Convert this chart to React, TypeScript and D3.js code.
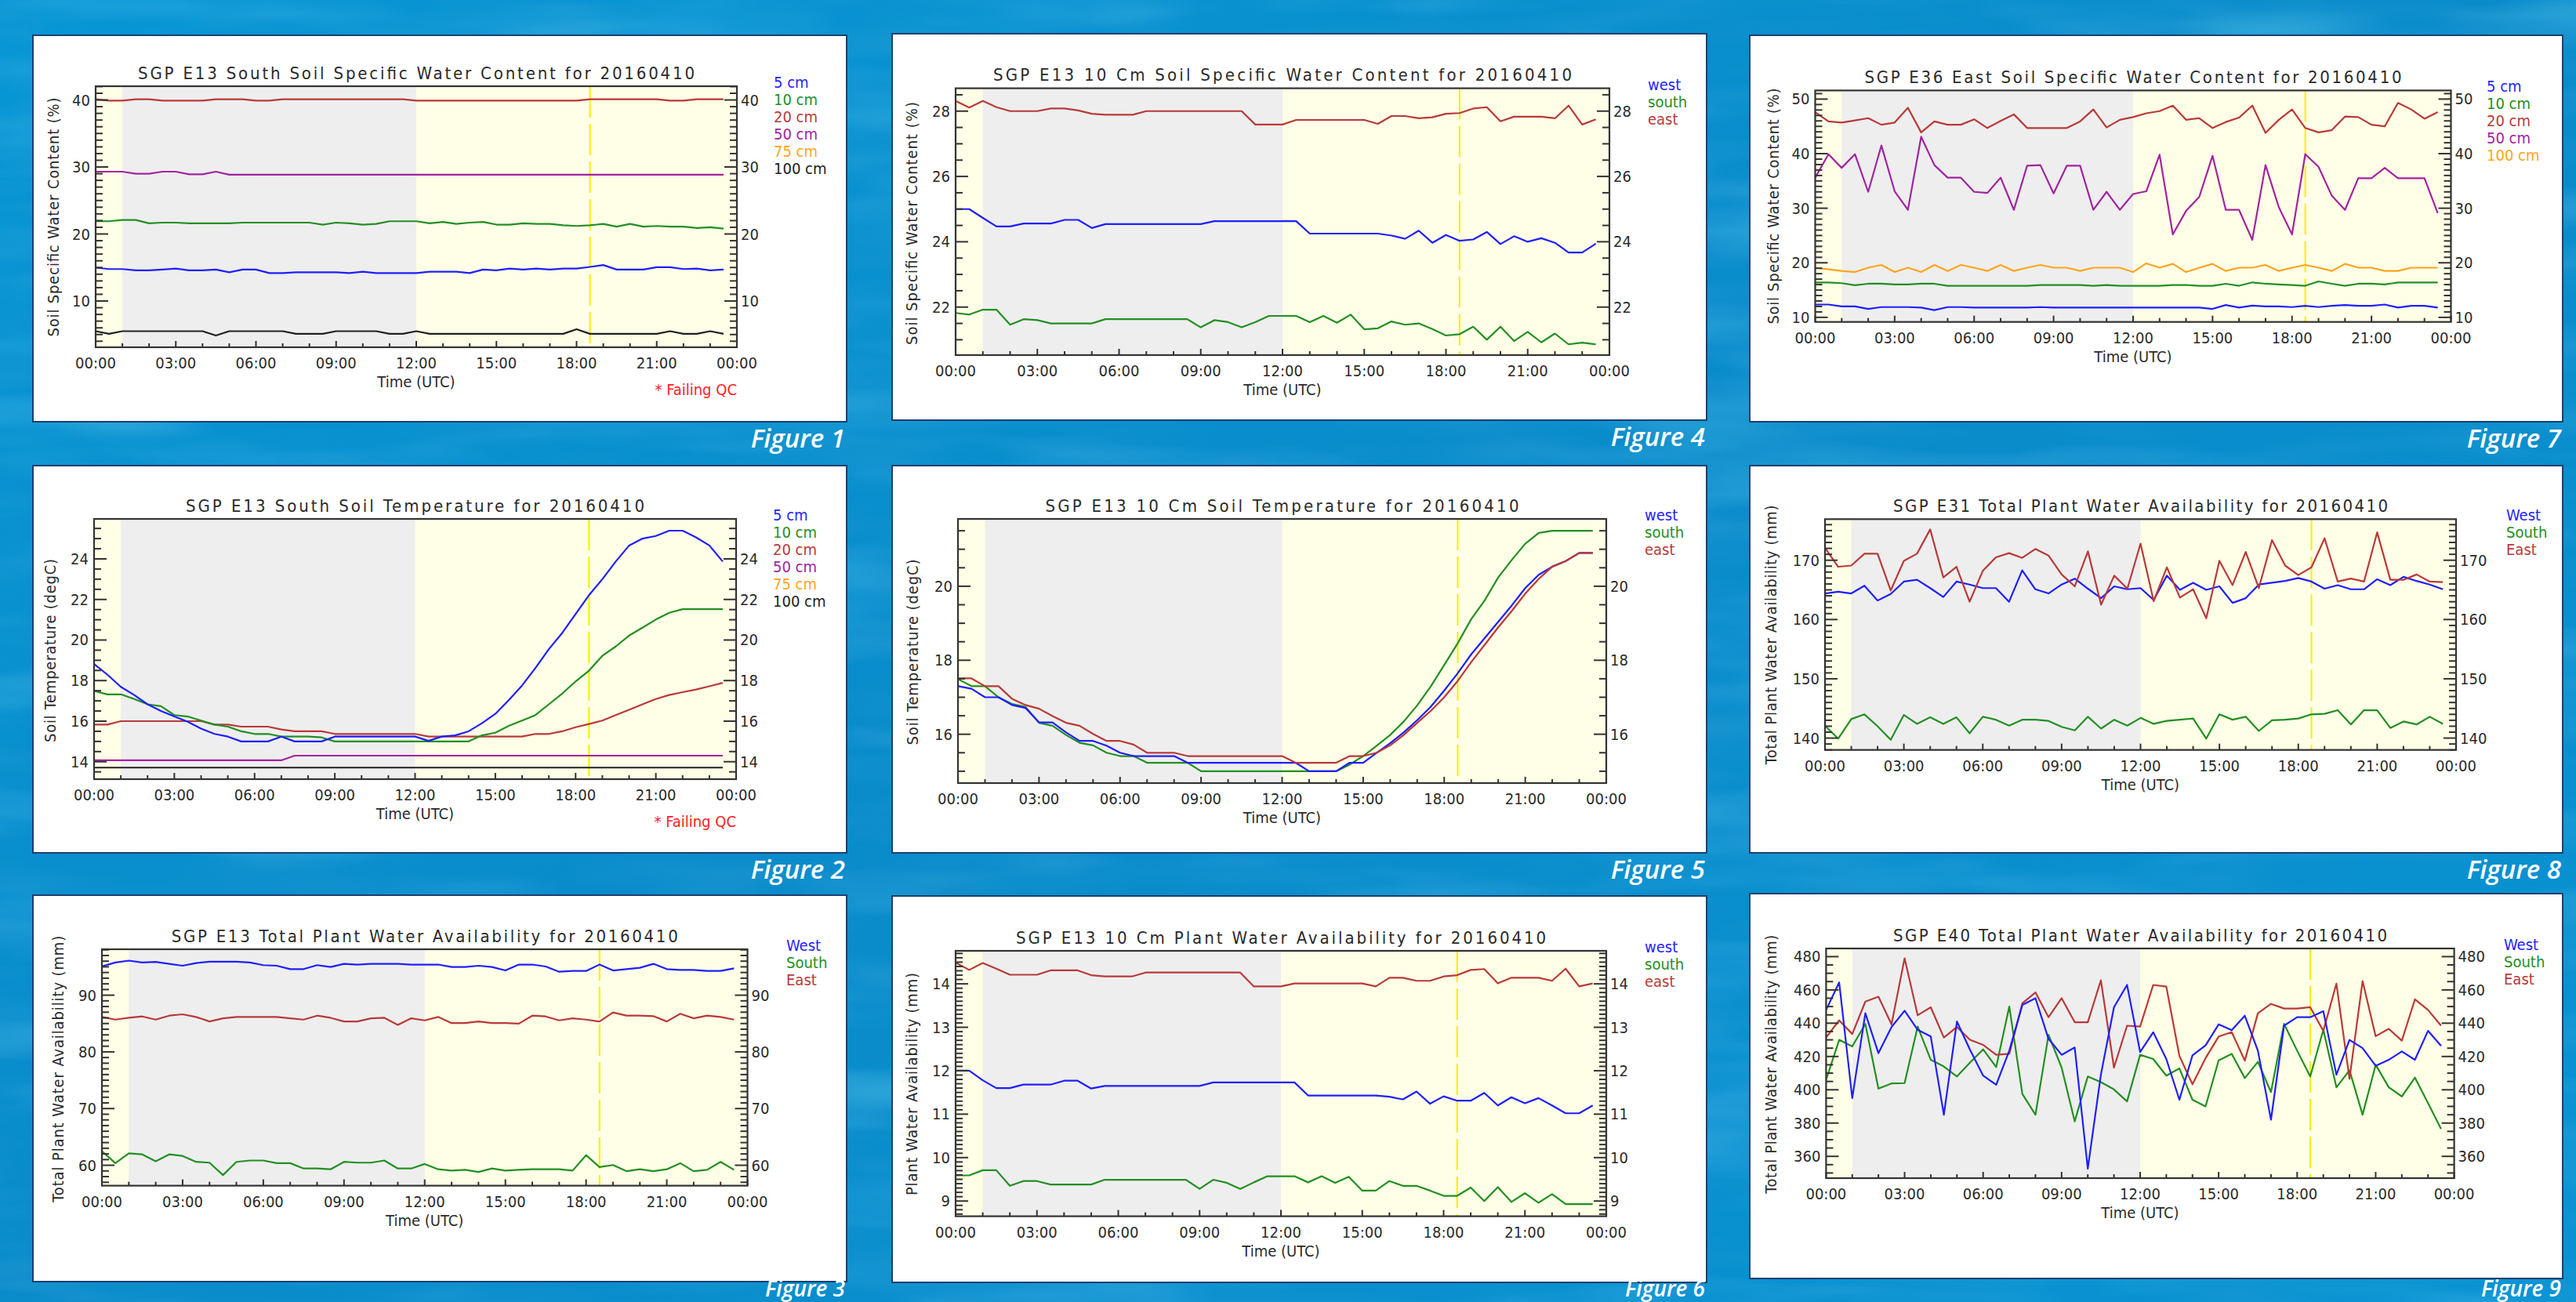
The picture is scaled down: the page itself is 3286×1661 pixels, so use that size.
import React from 'react';
import * as d3 from 'd3';

// ---------- shared axis data ----------
const HOURS = [0, 0.5, 1, 1.5, 2, 2.5, 3, 3.5, 4, 4.5, 5, 5.5, 6, 6.5, 7, 7.5, 8, 8.5, 9, 9.5, 10, 10.5, 11, 11.5,
  12, 12.5, 13, 13.5, 14, 14.5, 15, 15.5, 16, 16.5, 17, 17.5, 18, 18.5, 19, 19.5, 20, 20.5, 21, 21.5, 22, 22.5, 23, 23.5];
const X_TICK_LABELS = ['00:00', '03:00', '06:00', '09:00', '12:00', '15:00', '18:00', '21:00', '00:00'];
const NIGHT = [1, 12];
const MARKER_HOUR = 18.5;

// ---------- Figure 1 : SGP E13 South Soil Specific Water Content ----------
const F1_5CM = [14.97, 14.77, 14.77, 14.57, 14.57, 14.69, 14.85, 14.57, 14.57, 14.69, 14.29, 14.69, 14.69, 14.17, 14.17, 14.29,
  14.29, 14.29, 14.29, 14.17, 14.37, 14.17, 14.17, 14.17, 14.17, 14.37, 14.37, 14.37, 14.17, 14.69, 14.57, 14.85,
  14.69, 14.85, 14.69, 14.85, 14.85, 15.09, 15.37, 14.69, 14.69, 14.69, 15.05, 15.05, 14.77, 14.85, 14.57, 14.69];
const F1_10CM = [21.9, 21.9, 22.1, 22.1, 21.6, 21.7, 21.7, 21.6, 21.6, 21.6, 21.6, 21.7, 21.7, 21.7, 21.7, 21.7,
  21.7, 21.4, 21.7, 21.6, 21.4, 21.5, 21.9, 21.9, 21.9, 21.6, 21.8, 21.5, 21.7, 21.8, 21.4, 21.4,
  21.6, 21.5, 21.5, 21.3, 21.2, 21.3, 21.5, 21.1, 21.5, 21.1, 21.2, 21.1, 21.1, 20.9, 21.0, 20.8];
const F1_20CM = [40.1, 39.9, 39.9, 40.1, 40.1, 39.9, 39.9, 39.9, 39.9, 40.1, 40.1, 40.1, 39.9, 39.9, 40.1, 40.1,
  40.1, 40.1, 40.1, 40.1, 40.1, 40.1, 40.1, 40.1, 39.9, 39.9, 39.9, 39.9, 39.9, 39.9, 39.9, 39.9,
  39.9, 39.9, 39.9, 39.9, 39.9, 40.1, 40.1, 40.1, 40.1, 40.1, 40.1, 39.9, 39.9, 40.1, 40.1, 40.1];
const F1_50CM = [29.3, 29.3, 29.3, 29.0, 29.0, 29.3, 29.3, 28.9, 28.9, 29.3, 28.85, 28.85, 28.85, 28.85, 28.85, 28.85,
  28.85, 28.85, 28.85, 28.85, 28.85, 28.85, 28.85, 28.85, 28.85, 28.85, 28.85, 28.85, 28.85, 28.85, 28.85, 28.85,
  28.85, 28.85, 28.85, 28.85, 28.85, 28.85, 28.85, 28.85, 28.85, 28.85, 28.85, 28.85, 28.85, 28.85, 28.85, 28.85];
const F1_100CM = [5.5, 5.1, 5.5, 5.5, 5.5, 5.5, 5.5, 5.5, 5.5, 4.85, 5.5, 5.5, 5.5, 5.5, 5.5, 5.1,
  5.1, 5.1, 5.5, 5.5, 5.5, 5.5, 5.1, 5.1, 5.5, 5.1, 5.1, 5.1, 5.1, 5.1, 5.1, 5.1,
  5.1, 5.1, 5.1, 5.1, 5.8, 5.1, 5.1, 5.1, 5.1, 5.1, 5.1, 5.5, 5.1, 5.1, 5.5, 5.1];

// ---------- Figure 2 : SGP E13 South Soil Temperature ----------
const F2_5CM = [18.82, 18.29, 17.69, 17.29, 16.83, 16.5, 16.23, 15.97, 15.63, 15.37, 15.24, 15.0, 15.0, 15.0, 15.24, 15.0,
  15.0, 15.0, 15.24, 15.24, 15.24, 15.24, 15.24, 15.24, 15.24, 15.03, 15.24, 15.3, 15.5, 15.9, 16.36, 17.03,
  17.76, 18.62, 19.55, 20.35, 21.28, 22.21, 23.0, 23.87, 24.66, 25.0, 25.13, 25.39, 25.39, 25.06, 24.66, 23.87];
const F2_10CM = [17.49, 17.32, 17.32, 17.09, 16.83, 16.74, 16.3, 16.23, 16.03, 15.83, 15.73, 15.5, 15.37, 15.37, 15.24, 15.24,
  15.24, 15.2, 15.0, 15.0, 15.0, 15.0, 15.0, 15.0, 15.0, 15.0, 15.0, 15.0, 15.0, 15.3, 15.43, 15.77,
  16.03, 16.3, 16.83, 17.36, 17.96, 18.49, 19.22, 19.68, 20.22, 20.61, 21.01, 21.34, 21.52, 21.52, 21.52, 21.52];
const F2_20CM = [15.83, 15.83, 16.0, 16.0, 16.0, 16.0, 16.0, 16.0, 16.0, 15.83, 15.83, 15.73, 15.73, 15.73, 15.59, 15.5,
  15.5, 15.5, 15.37, 15.37, 15.37, 15.37, 15.37, 15.37, 15.37, 15.24, 15.24, 15.24, 15.24, 15.24, 15.24, 15.24,
  15.24, 15.37, 15.37, 15.5, 15.7, 15.86, 16.03, 16.3, 16.56, 16.83, 17.09, 17.29, 17.43, 17.56, 17.72, 17.89];
const F2_50CM = [14.07, 14.07, 14.07, 14.07, 14.07, 14.07, 14.07, 14.07, 14.07, 14.07, 14.07, 14.07, 14.07, 14.07, 14.07, 14.3,
  14.3, 14.3, 14.3, 14.3, 14.3, 14.3, 14.3, 14.3, 14.3, 14.3, 14.3, 14.3, 14.3, 14.3, 14.3, 14.3,
  14.3, 14.3, 14.3, 14.3, 14.3, 14.3, 14.3, 14.3, 14.3, 14.3, 14.3, 14.3, 14.3, 14.3, 14.3, 14.3];
const F2_100CM = [13.71, 13.71, 13.71, 13.71, 13.71, 13.71, 13.71, 13.71, 13.71, 13.71, 13.71, 13.71, 13.71, 13.71, 13.71, 13.71,
  13.71, 13.71, 13.71, 13.71, 13.71, 13.71, 13.71, 13.71, 13.71, 13.71, 13.71, 13.71, 13.71, 13.71, 13.71, 13.71,
  13.71, 13.71, 13.71, 13.71, 13.71, 13.71, 13.71, 13.71, 13.71, 13.71, 13.71, 13.71, 13.71, 13.71, 13.71, 13.71];

// ---------- Figure 3 : SGP E13 Total Plant Water Availability ----------
const F3_WEST = [95.06, 95.77, 96.1, 95.77, 95.86, 95.53, 95.2, 95.67, 95.9, 95.9, 95.9, 95.77, 95.3, 95.2, 94.6, 94.6,
  95.3, 94.97, 95.53, 95.4, 95.53, 95.53, 95.53, 95.4, 95.4, 95.4, 94.97, 94.97, 95.2, 94.97, 94.36, 95.4,
  95.4, 95.06, 94.13, 94.27, 94.27, 95.4, 94.36, 94.6, 94.83, 95.53, 94.6, 94.45, 94.45, 94.27, 94.27, 94.73];
const F3_SOUTH = [62.48, 60.37, 62.1, 61.92, 60.7, 61.92, 61.64, 60.6, 60.46, 58.26, 60.6, 60.84, 60.84, 60.37, 60.37, 59.43,
  59.43, 59.29, 60.6, 60.46, 60.46, 60.84, 59.43, 59.43, 60.23, 59.29, 59.06, 59.2, 58.82, 59.43, 59.06, 59.2,
  59.29, 59.29, 59.29, 59.06, 61.78, 59.67, 60.04, 58.96, 59.29, 58.96, 59.29, 60.37, 58.96, 59.2, 60.6, 59.2];
const F3_EAST = [86.16, 85.69, 86.01, 86.25, 85.69, 86.39, 86.62, 86.16, 85.36, 85.92, 86.16, 86.16, 86.16, 86.16, 85.92, 85.69,
  86.39, 86.01, 85.36, 85.36, 85.92, 86.01, 84.75, 85.92, 85.55, 86.16, 85.08, 85.08, 85.36, 85.08, 85.08, 84.98,
  86.39, 86.25, 85.55, 85.92, 85.69, 85.36, 86.95, 86.39, 86.39, 86.3, 85.36, 86.72, 85.92, 86.39, 86.16, 85.69];

// ---------- Figure 4 : SGP E13 10 Cm Soil Specific Water Content ----------
const F4_WEST = [25.0, 25.0, 24.73, 24.47, 24.47, 24.56, 24.56, 24.56, 24.67, 24.67, 24.42, 24.54, 24.54, 24.54, 24.54, 24.54,
  24.54, 24.54, 24.54, 24.63, 24.63, 24.63, 24.63, 24.63, 24.63, 24.63, 24.25, 24.25, 24.25, 24.25, 24.25, 24.25,
  24.19, 24.09, 24.34, 23.97, 24.21, 24.03, 24.07, 24.3, 23.93, 24.17, 24.0, 24.11, 23.97, 23.67, 23.67, 23.94];
const F4_SOUTH = [21.82, 21.77, 21.92, 21.92, 21.46, 21.63, 21.6, 21.5, 21.5, 21.5, 21.5, 21.63, 21.63, 21.63, 21.63, 21.63,
  21.63, 21.63, 21.38, 21.6, 21.54, 21.38, 21.54, 21.73, 21.73, 21.73, 21.54, 21.73, 21.52, 21.77, 21.32, 21.35,
  21.56, 21.46, 21.5, 21.33, 21.13, 21.17, 21.4, 21.0, 21.4, 20.96, 21.24, 20.92, 21.19, 20.86, 20.91, 20.86];
const F4_EAST = [28.31, 28.11, 28.31, 28.12, 28.0, 28.0, 28.0, 28.08, 28.08, 28.02, 27.92, 27.89, 27.89, 27.89, 28.0, 28.0,
  28.0, 28.0, 28.0, 28.0, 28.0, 28.0, 27.59, 27.59, 27.59, 27.73, 27.73, 27.73, 27.73, 27.73, 27.73, 27.61,
  27.85, 27.85, 27.78, 27.81, 27.92, 27.94, 28.08, 28.12, 27.69, 27.83, 27.83, 27.83, 27.78, 28.17, 27.59, 27.75];

// ---------- Figure 5 : SGP E13 10 Cm Soil Temperature ----------
const F5_WEST = [17.3, 17.23, 17.0, 17.0, 16.79, 16.71, 16.32, 16.32, 16.05, 15.82, 15.82, 15.69, 15.5, 15.41, 15.41, 15.41,
  15.41, 15.23, 15.23, 15.23, 15.23, 15.23, 15.23, 15.23, 15.23, 15.23, 15.0, 15.0, 15.0, 15.23, 15.23, 15.5,
  15.76, 16.05, 16.38, 16.74, 17.18, 17.65, 18.16, 18.6, 19.04, 19.48, 19.95, 20.31, 20.53, 20.68, 20.9, 20.9];
const F5_SOUTH = [17.49, 17.3, 17.3, 17.0, 16.82, 16.74, 16.31, 16.23, 15.98, 15.77, 15.7, 15.5, 15.41, 15.41, 15.23, 15.23,
  15.23, 15.23, 15.0, 15.0, 15.0, 15.0, 15.0, 15.0, 15.0, 15.0, 15.0, 15.0, 15.0, 15.18, 15.41, 15.69,
  15.98, 16.34, 16.78, 17.29, 17.87, 18.46, 19.11, 19.62, 20.24, 20.71, 21.15, 21.44, 21.5, 21.5, 21.5, 21.5];
const F5_EAST = [17.51, 17.51, 17.3, 17.3, 16.96, 16.79, 16.69, 16.49, 16.31, 16.23, 16.01, 15.82, 15.82, 15.72, 15.5, 15.5,
  15.5, 15.41, 15.41, 15.41, 15.41, 15.41, 15.41, 15.41, 15.41, 15.23, 15.23, 15.23, 15.23, 15.41, 15.41, 15.5,
  15.7, 15.98, 16.31, 16.63, 17.0, 17.44, 17.95, 18.42, 18.89, 19.33, 19.8, 20.2, 20.53, 20.68, 20.9, 20.9];

// ---------- Figure 6 : SGP E13 10 Cm Plant Water Availability ----------
const F6_WEST = [12.0, 12.0, 11.78, 11.6, 11.6, 11.68, 11.68, 11.68, 11.77, 11.77, 11.59, 11.65, 11.65, 11.65, 11.65, 11.65,
  11.65, 11.65, 11.65, 11.73, 11.73, 11.73, 11.73, 11.73, 11.73, 11.73, 11.43, 11.43, 11.43, 11.43, 11.43, 11.43,
  11.4, 11.34, 11.52, 11.24, 11.41, 11.31, 11.31, 11.49, 11.2, 11.39, 11.25, 11.37, 11.2, 11.02, 11.02, 11.2];
const F6_SOUTH = [9.59, 9.59, 9.71, 9.71, 9.35, 9.46, 9.46, 9.38, 9.38, 9.38, 9.38, 9.49, 9.49, 9.49, 9.49, 9.49,
  9.49, 9.49, 9.28, 9.49, 9.42, 9.28, 9.43, 9.57, 9.57, 9.57, 9.43, 9.57, 9.42, 9.56, 9.24, 9.24,
  9.46, 9.35, 9.35, 9.24, 9.12, 9.12, 9.31, 9.0, 9.32, 8.98, 9.18, 8.96, 9.16, 8.93, 8.93, 8.93];
const F6_EAST = [14.49, 14.32, 14.48, 14.35, 14.21, 14.21, 14.21, 14.31, 14.31, 14.31, 14.2, 14.17, 14.17, 14.17, 14.26, 14.26,
  14.26, 14.26, 14.26, 14.26, 14.26, 14.26, 13.94, 13.94, 13.94, 14.01, 14.01, 14.01, 14.01, 14.01, 14.01, 13.94,
  14.14, 14.14, 14.07, 14.07, 14.17, 14.2, 14.32, 14.34, 14.01, 14.14, 14.14, 14.14, 14.07, 14.35, 13.94, 14.01];

// ---------- Figure 7 : SGP E36 East Soil Specific Water Content ----------
const F7_5CM = [12.35, 12.35, 12.0, 12.0, 11.55, 11.88, 11.88, 11.88, 11.79, 11.32, 11.88, 11.88, 11.79, 11.79, 11.79, 11.79,
  11.79, 11.88, 11.79, 11.79, 11.79, 11.79, 11.79, 11.79, 11.79, 11.79, 11.79, 11.79, 11.79, 11.79, 11.55, 12.26,
  11.79, 12.16, 12.02, 12.02, 11.88, 12.12, 11.88, 12.12, 12.26, 12.12, 12.12, 12.35, 11.79, 12.12, 12.12, 11.79];
const F7_10CM = [16.4, 16.4, 16.26, 15.88, 16.16, 16.16, 16.02, 16.02, 16.16, 16.16, 15.79, 15.79, 15.79, 15.79, 15.79, 15.79,
  15.79, 15.93, 15.93, 15.93, 15.93, 15.79, 15.93, 15.79, 15.79, 15.79, 15.79, 15.93, 15.93, 15.79, 15.79, 16.16,
  15.79, 16.4, 16.16, 16.02, 15.93, 15.79, 16.59, 16.16, 15.79, 16.16, 16.16, 16.02, 16.4, 16.4, 16.4, 16.4];
const F7_20CM = [47.6, 45.9, 45.7, 46.1, 46.5, 45.3, 45.7, 48.4, 43.9, 45.9, 45.3, 45.3, 46.3, 44.7, 46.0, 47.2,
  44.7, 44.7, 44.7, 44.7, 45.9, 48.1, 44.8, 46.2, 46.7, 47.4, 47.8, 48.8, 46.2, 46.5, 44.7, 45.8,
  46.6, 48.8, 43.8, 46.2, 48.1, 44.7, 43.9, 44.3, 46.8, 46.7, 45.3, 45.0, 49.3, 48.1, 46.4, 47.6];
const F7_50CM = [35.6, 39.9, 37.4, 39.9, 33.0, 41.5, 33.1, 29.7, 43.1, 37.9, 35.6, 35.6, 33.0, 32.8, 35.6, 29.7,
  37.8, 37.9, 32.7, 37.8, 37.8, 29.7, 33.0, 29.7, 32.6, 33.1, 39.8, 25.2, 29.5, 32.1, 39.6, 29.7,
  29.7, 24.2, 37.9, 30.2, 25.2, 39.9, 37.6, 32.3, 29.7, 35.5, 35.5, 37.4, 35.5, 35.5, 35.5, 29.1];
const F7_100CM = [19.1, 18.8, 18.5, 18.3, 19.1, 19.6, 18.3, 19.1, 18.3, 19.6, 18.5, 19.6, 19.1, 18.5, 19.6, 18.5,
  19.1, 19.6, 19.1, 19.1, 18.5, 19.1, 19.1, 19.1, 18.3, 19.9, 19.1, 19.8, 18.3, 19.1, 19.8, 18.5,
  19.1, 19.1, 19.6, 18.5, 19.1, 19.6, 19.1, 18.5, 19.8, 19.1, 19.1, 18.5, 18.5, 19.1, 19.1, 19.1];

// ---------- Figure 8 : SGP E31 Total Plant Water Availability ----------
const F8_WEST = [164.4, 164.7, 164.4, 165.7, 163.2, 164.3, 166.4, 166.7, 165.3, 163.8, 166.4, 165.9, 165.3, 165.3, 163.0, 168.3,
  165.1, 164.4, 165.9, 166.9, 165.2, 163.6, 165.6, 165.1, 165.3, 163.3, 167.4, 165.0, 166.2, 165.0, 165.6, 162.8,
  163.6, 165.9, 166.2, 166.5, 167.0, 166.4, 165.2, 165.8, 165.1, 165.1, 166.8, 165.8, 167.2, 166.5, 165.9, 165.1];
const F8_SOUTH = [142.1, 139.9, 143.2, 144.0, 142.0, 139.7, 143.9, 142.4, 143.5, 142.4, 143.5, 140.8, 143.6, 143.1, 142.1, 143.1,
  143.1, 142.9, 141.9, 141.3, 143.6, 141.6, 143.1, 142.1, 143.4, 142.4, 142.9, 143.1, 143.3, 139.9, 144.0, 143.1,
  143.6, 141.2, 143.0, 143.1, 143.3, 144.0, 144.1, 144.7, 142.3, 144.7, 144.7, 141.7, 142.8, 142.3, 143.6, 142.4];
const F8_EAST = [172.1, 168.9, 169.1, 171.1, 171.1, 164.9, 169.9, 171.1, 175.2, 167.1, 168.9, 163.0, 168.2, 170.5, 171.2, 170.4,
  171.9, 170.8, 167.6, 165.6, 171.5, 162.5, 167.4, 165.2, 172.8, 163.1, 168.8, 163.7, 165.1, 160.2, 169.9, 165.8,
  171.4, 165.3, 173.4, 169.1, 167.5, 168.8, 173.7, 166.4, 166.9, 166.4, 174.7, 166.7, 166.7, 167.6, 166.4, 166.3];

// ---------- Figure 9 : SGP E40 Total Plant Water Availability ----------
const F9_WEST = [448, 464.5, 395, 446, 422, 437.7, 447.5, 436, 432, 385, 441, 424, 408.5, 403, 423.5, 451,
  455, 430.6, 421, 425.4, 352.6, 409, 449.6, 463, 422.7, 434.6, 418.5, 394, 420.7, 426.7, 439.3, 435.8,
  444.5, 423.5, 382, 438.5, 443.6, 443.6, 447.2, 409, 430, 425, 414.4, 418, 423, 418, 435.4, 426.4];
const F9_SOUTH = [406, 430, 426, 439.6, 400.7, 403.8, 404, 438, 418, 414, 408, 416.4, 424.3, 413.6, 450, 397.5,
  385, 433, 413.3, 381, 408, 404.6, 400.2, 393, 421, 418.5, 408.5, 412.8, 394, 390, 417.7, 421.6,
  407, 416.8, 398.6, 439.6, 423.5, 408, 436, 401.5, 411.7, 385, 415, 401.5, 396, 407.3, 392, 376.5];
const F9_EAST = [431.4, 441.7, 433.5, 453, 455.9, 439.3, 479, 444.8, 449.6, 431.4, 437.7, 430, 427, 421, 421.6, 452,
  458.5, 443.6, 455, 440.6, 440.6, 465.8, 413.3, 438.5, 438, 463, 462, 420.4, 403.3, 419, 432, 434.6,
  417.5, 446, 451.6, 448.8, 448.8, 449.6, 435.4, 463.8, 406.5, 465.3, 432.2, 436.6, 429.5, 454.3, 448, 438.5];

// ---------- styles ----------
const C = {
  blue: '#1f1fff', green: '#238f23', red: '#b83a3a', purple: '#a124a1', orange: '#ffa41c', black: '#202020',
};
const DEPTH_LEGEND = [
  { label: '5 cm', color: C.blue }, { label: '10 cm', color: C.green }, { label: '20 cm', color: C.red },
  { label: '50 cm', color: C.purple }, { label: '75 cm', color: C.orange }, { label: '100 cm', color: C.black },
];
const DEPTH_LEGEND_E36 = [
  { label: '5 cm', color: C.blue }, { label: '10 cm', color: C.green }, { label: '20 cm', color: C.red },
  { label: '50 cm', color: C.purple }, { label: '100 cm', color: C.orange },
];
const DIR_LOWER = [
  { label: 'west', color: C.blue }, { label: 'south', color: C.green }, { label: 'east', color: C.red },
];
const DIR_UPPER = [
  { label: 'West', color: C.blue }, { label: 'South', color: C.green }, { label: 'East', color: C.red },
];

type Series = { values: number[]; color: string };
type PanelCfg = {
  fig: string;
  box: [number, number, number, number];
  plot: [number, number, number, number];
  yDomain: [number, number];
  major: number;
  minor: number;
  title: string;
  titleW: number;
  ylabel: string;
  ylabX: number;
  ylabY: number;
  ylabW: number;
  legendX: number;
  legend: { label: string; color: string }[];
  series: Series[];
  failing?: boolean;
};

const PANELS: PanelCfg[] = [
  {
    fig: 'Figure 1', box: [42, 45, 1080, 538], plot: [122, 110, 940, 443], yDomain: [3.1, 42.05], major: 10, minor: 1,
    title: 'SGP E13 South Soil Specific Water Content for 20160410', titleW: 710,
    ylabel: 'Soil Specific Water Content (%)', ylabX: 67.5, ylabY: 277, ylabW: 305,
    legendX: 987, legend: DEPTH_LEGEND, failing: true,
    series: [
      { values: F1_100CM, color: C.black }, { values: F1_50CM, color: C.purple }, { values: F1_20CM, color: C.red },
      { values: F1_10CM, color: C.green }, { values: F1_5CM, color: C.blue },
    ],
  },
  {
    fig: 'Figure 4', box: [1138, 43, 2177, 536], plot: [1219, 112.6, 2053, 453], yDomain: [20.53, 28.7], major: 2, minor: 0.5,
    title: 'SGP E13 10 Cm Soil Specific Water Content for 20160410', titleW: 738,
    ylabel: 'Soil Specific Water Content (%)', ylabX: 1163, ylabY: 285, ylabW: 310,
    legendX: 2102, legend: DIR_LOWER,
    series: [{ values: F4_SOUTH, color: C.green }, { values: F4_EAST, color: C.red }, { values: F4_WEST, color: C.blue }],
  },
  {
    fig: 'Figure 7', box: [2232, 45, 3269, 538], plot: [2315.5, 115.4, 3126.5, 410.7], yDomain: [9.16, 51.58], major: 10, minor: 1,
    title: 'SGP E36 East Soil Specific Water Content for 20160410', titleW: 685,
    ylabel: 'Soil Specific Water Content (%)', ylabX: 2262, ylabY: 263, ylabW: 301,
    legendX: 3172, legend: DEPTH_LEGEND_E36,
    series: [
      { values: F7_100CM, color: C.orange }, { values: F7_10CM, color: C.green }, { values: F7_5CM, color: C.blue },
      { values: F7_50CM, color: C.purple }, { values: F7_20CM, color: C.red },
    ],
  },
  {
    fig: 'Figure 2', box: [42, 594, 1080, 1088], plot: [120, 662, 939, 994], yDomain: [13.14, 25.97], major: 2, minor: 0.5,
    title: 'SGP E13 South Soil Temperature for 20160410', titleW: 585,
    ylabel: 'Soil Temperature (degC)', ylabX: 64, ylabY: 830, ylabW: 234,
    legendX: 986, legend: DEPTH_LEGEND, failing: true,
    series: [
      { values: F2_100CM, color: C.black }, { values: F2_50CM, color: C.purple }, { values: F2_20CM, color: C.red },
      { values: F2_10CM, color: C.green }, { values: F2_5CM, color: C.blue },
    ],
  },
  {
    fig: 'Figure 5', box: [1138, 594, 2177, 1088], plot: [1222, 662, 2049, 999], yDomain: [14.68, 21.82], major: 2, minor: 0.5,
    title: 'SGP E13 10 Cm Soil Temperature for 20160410', titleW: 604,
    ylabel: 'Soil Temperature (degC)', ylabX: 1164, ylabY: 832, ylabW: 237,
    legendX: 2098, legend: DIR_LOWER,
    series: [{ values: F5_SOUTH, color: C.green }, { values: F5_WEST, color: C.blue }, { values: F5_EAST, color: C.red }],
  },
  {
    fig: 'Figure 8', box: [2232, 594, 3269, 1088], plot: [2328, 662.3, 3133, 956.7], yDomain: [138, 176.93], major: 10, minor: 1,
    title: 'SGP E31 Total Plant Water Availability for 20160410', titleW: 631,
    ylabel: 'Total Plant Water Availability (mm)', ylabX: 2259, ylabY: 810, ylabW: 331,
    legendX: 3197, legend: DIR_UPPER,
    series: [{ values: F8_SOUTH, color: C.green }, { values: F8_WEST, color: C.blue }, { values: F8_EAST, color: C.red }],
  },
  {
    fig: 'Figure 3', box: [42, 1142, 1080, 1635], plot: [130, 1211, 953.5, 1512.6], yDomain: [56.4, 98.1], major: 10, minor: 1,
    title: 'SGP E13 Total Plant Water Availability for 20160410', titleW: 646,
    ylabel: 'Total Plant Water Availability (mm)', ylabX: 74.4, ylabY: 1363.7, ylabW: 340,
    legendX: 1003, legend: DIR_UPPER,
    series: [{ values: F3_SOUTH, color: C.green }, { values: F3_EAST, color: C.red }, { values: F3_WEST, color: C.blue }],
  },
  {
    fig: 'Figure 6', box: [1138, 1143, 2177, 1636], plot: [1219, 1213, 2049, 1551.6], yDomain: [8.65, 14.76], major: 1, minor: 0.1,
    title: 'SGP E13 10 Cm Plant Water Availability for 20160410', titleW: 676,
    ylabel: 'Plant Water Availability (mm)', ylabX: 1163, ylabY: 1383, ylabW: 284,
    legendX: 2098, legend: DIR_LOWER,
    series: [{ values: F6_SOUTH, color: C.green }, { values: F6_EAST, color: C.red }, { values: F6_WEST, color: C.blue }],
  },
  {
    fig: 'Figure 9', box: [2232, 1140, 3269, 1631], plot: [2329.4, 1210, 3130.6, 1503], yDomain: [346.9, 484.9], major: 20, minor: 5,
    title: 'SGP E40 Total Plant Water Availability for 20160410', titleW: 630,
    ylabel: 'Total Plant Water Availability (mm)', ylabX: 2259, ylabY: 1357.7, ylabW: 330,
    legendX: 3194, legend: DIR_UPPER,
    series: [{ values: F9_SOUTH, color: C.green }, { values: F9_EAST, color: C.red }, { values: F9_WEST, color: C.blue }],
  },
];

const FONT = "'DejaVu Sans Condensed', 'DejaVu Sans', sans-serif";
const TEXT = '#2a2a2a';
const PAGE_H = 1661;

function Panel({ p, idx }: { p: PanelCfg; idx: number }) {
  const [x0, y0, x1, y1] = p.plot;
  const x = d3.scaleLinear().domain([0, 24]).range([x0, x1]);
  const y = d3.scaleLinear().domain(p.yDomain).range([y1, y0]);
  const line = d3.line<number>().x((_, i) => x(HOURS[i])).y((d) => y(d));

  const kStart = Math.ceil(p.yDomain[0] / p.minor - 1e-6);
  const kEnd = Math.floor(p.yDomain[1] / p.minor + 1e-6);
  const yTicks = d3.range(kStart, kEnd + 1).map((k) => {
    const v = k * p.minor;
    const r = v / p.major;
    return { v, major: Math.abs(r - Math.round(r)) < 1e-6 };
  });
  const xTicks = d3.range(0, 25);
  const clipId = `clip${idx}`;
  const [bx0, by0, bx1, by1] = p.box;
  const bottomRow = by1 + 40 > PAGE_H;
  const figY = bottomRow ? PAGE_H - 7 : by1 + 33;
  const figSize = bottomRow ? 28 : 33;

  return (
    <g>
      <rect x={bx0} y={by0} width={bx1 - bx0} height={by1 - by0} fill="#ffffff" stroke="#1d3f6e" strokeWidth={2} />
      <defs>
        <clipPath id={clipId}>
          <rect x={x0} y={y0} width={x1 - x0} height={y1 - y0} />
        </clipPath>
      </defs>
      {/* backgrounds */}
      <rect x={x0} y={y0} width={x1 - x0} height={y1 - y0} fill="#fffee6" />
      <rect x={x(NIGHT[0])} y={y0} width={x(NIGHT[1]) - x(NIGHT[0])} height={y1 - y0} fill="#eeeeee" />
      <line x1={x(MARKER_HOUR)} x2={x(MARKER_HOUR)} y1={y0} y2={y1} stroke="#f5f000" strokeWidth={2} strokeDasharray="40 8" />
      {/* series */}
      <g clipPath={`url(#${clipId})`}>
        {p.series.map((s, i) => (
          <path key={i} d={line(s.values) || ''} fill="none" stroke={s.color} strokeWidth={2.2} strokeLinejoin="round" />
        ))}
      </g>
      {/* frame */}
      <rect x={x0} y={y0} width={x1 - x0} height={y1 - y0} fill="none" stroke="#333" strokeWidth={2.2} />
      {/* y ticks */}
      {yTicks.map((t, i) => {
        const yy = y(t.v);
        const len = t.major ? 16 : 9;
        return (
          <g key={`y${i}`}>
            <line x1={x0} x2={x0 + len} y1={yy} y2={yy} stroke="#333" strokeWidth={2} />
            <line x1={x1 - len} x2={x1} y1={yy} y2={yy} stroke="#333" strokeWidth={2} />
            {t.major && (
              <>
                <text x={x0 - 7} y={yy} textAnchor="end" dominantBaseline="central" fontSize={20} fontFamily={FONT} fill={TEXT}>
                  {Math.round(t.v)}
                </text>
                <text x={x1 + 5} y={yy} textAnchor="start" dominantBaseline="central" fontSize={20} fontFamily={FONT} fill={TEXT}>
                  {Math.round(t.v)}
                </text>
              </>
            )}
          </g>
        );
      })}
      {/* x ticks */}
      {xTicks.map((h) => {
        const xx = x(h);
        const major = h % 3 === 0;
        return (
          <line key={`x${h}`} x1={xx} x2={xx} y1={y1} y2={y1 - (major ? 8 : 5)} stroke="#333" strokeWidth={2} />
        );
      })}
      {X_TICK_LABELS.map((lab, i) => (
        <text key={`xl${i}`} x={x(i * 3)} y={y1 + 20} textAnchor="middle" dominantBaseline="central" fontSize={20}
          fontFamily={FONT} fill={TEXT}>
          {lab}
        </text>
      ))}
      <text x={(x0 + x1) / 2} y={y1 + 44} textAnchor="middle" dominantBaseline="central" fontSize={20} fontFamily={FONT} fill={TEXT}>
        Time (UTC)
      </text>
      {/* title */}
      <text x={(x0 + x1) / 2} y={y0 - 17} textAnchor="middle" dominantBaseline="central" fontSize={22} fontFamily={FONT}
        fill={TEXT} textLength={p.titleW} lengthAdjust="spacing">
        {p.title}
      </text>
      {/* y label */}
      <text transform={`translate(${p.ylabX},${p.ylabY}) rotate(-90)`} textAnchor="middle" dominantBaseline="central"
        fontSize={20} fontFamily={FONT} fill={TEXT} textLength={p.ylabW} lengthAdjust="spacing">
        {p.ylabel}
      </text>
      {/* legend */}
      {p.legend.map((l, i) => (
        <text key={`lg${i}`} x={p.legendX} y={y0 - 5 + i * 22} dominantBaseline="central" fontSize={20} fontFamily={FONT}
          fill={l.color}>
          {l.label}
        </text>
      ))}
      {p.failing && (
        <text x={x1} y={y1 + 54} textAnchor="end" dominantBaseline="central" fontSize={20} fontFamily={FONT} fill="#ff2222">
          * Failing QC
        </text>
      )}
      {/* figure label */}
      <text x={bx1 - 2} y={figY} textAnchor="end" fontSize={figSize} fontStyle="italic" fontWeight={600}
        fontFamily="'Open Sans', 'Liberation Sans', sans-serif" fill="#ffffff">
        {p.fig}
      </text>
    </g>
  );
}

export default function App() {
  return (
    <svg width={3286} height={1661} viewBox="0 0 3286 1661" xmlns="http://www.w3.org/2000/svg"
      style={{ position: 'absolute', left: 0, top: 0, display: 'block' }}>
      <defs>
        <linearGradient id="bg" x1="0" y1="0" x2="1" y2="1">
          <stop offset="0" stopColor="#0896d5" />
          <stop offset="0.5" stopColor="#0a8bca" />
          <stop offset="1" stopColor="#0993d3" />
        </linearGradient>
        <filter id="water" x="0" y="0" width="100%" height="100%">
          <feTurbulence type="fractalNoise" baseFrequency="0.0025 0.014" numOctaves={3} seed={7} />
          <feColorMatrix type="matrix" values="0 0 0 0 0.2  0 0 0 0 0.7  0 0 0 0 0.95  1.8 0 0 0 -0.85" />
        </filter>
        <filter id="water2" x="0" y="0" width="100%" height="100%">
          <feTurbulence type="fractalNoise" baseFrequency="0.004 0.02" numOctaves={2} seed={19} />
          <feColorMatrix type="matrix" values="0 0 0 0 0.02  0 0 0 0 0.35  0 0 0 0 0.65  1.8 0 0 0 -0.8" />
        </filter>
      </defs>
      <rect x={0} y={0} width={3286} height={1661} fill="url(#bg)" />
      <rect x={0} y={0} width={3286} height={1661} filter="url(#water2)" opacity={0.55} />
      <rect x={0} y={0} width={3286} height={1661} filter="url(#water)" opacity={0.35} />
      {PANELS.map((p, i) => (
        <Panel key={i} p={p} idx={i} />
      ))}
    </svg>
  );
}
